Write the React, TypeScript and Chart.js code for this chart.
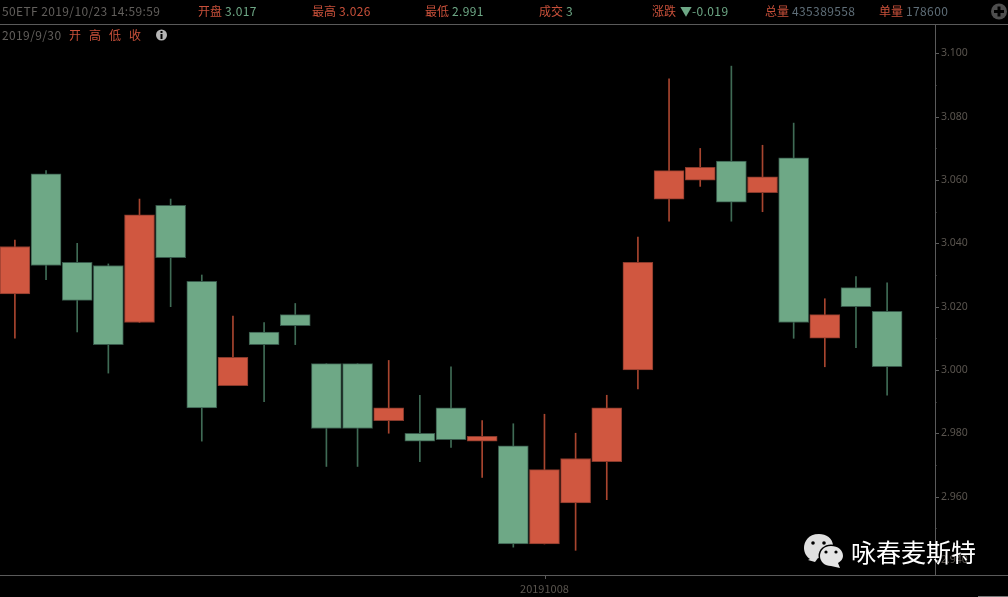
import React, { useEffect, useRef } from "react";
import { Chart, registerables } from "chart.js";

Chart.register(...registerables);

const indexes = [0, 1, 2, 3, 4, 5, 6, 7, 8, 9, 10, 11, 12, 13, 14, 15, 16, 17, 18, 19, 20, 21, 22, 23, 24, 25, 26, 27, 28];
const opens = [3.024, 3.062, 3.034, 3.033, 3.015, 3.052, 3.028, 2.995, 3.012, 3.0175, 3.002, 3.002, 2.984, 2.98, 2.988, 2.9775, 2.976, 2.945, 2.958, 2.971, 3.0, 3.054, 3.06, 3.066, 3.056, 3.067, 3.01, 3.026, 3.0185];
const closes = [3.039, 3.033, 3.022, 3.008, 3.049, 3.0355, 2.988, 3.004, 3.008, 3.014, 2.9815, 2.9815, 2.988, 2.9775, 2.978, 2.979, 2.945, 2.9685, 2.972, 2.988, 3.034, 3.063, 3.064, 3.053, 3.061, 3.015, 3.0175, 3.02, 3.001];
const highs = [3.041, 3.063, 3.04, 3.0335, 3.054, 3.054, 3.03, 3.017, 3.015, 3.021, 3.002, 3.002, 3.003, 2.992, 3.001, 2.984, 2.983, 2.986, 2.98, 2.992, 3.042, 3.092, 3.07, 3.096, 3.071, 3.078, 3.0225, 3.0295, 3.0275];
const lows = [3.01, 3.0285, 3.012, 2.999, 3.015, 3.02, 2.9775, 2.995, 2.99, 3.008, 2.9695, 2.9695, 2.98, 2.971, 2.9755, 2.966, 2.944, 2.945, 2.943, 2.959, 2.994, 3.047, 3.058, 3.047, 3.05, 3.01, 3.001, 3.007, 2.992];
const xTickLabels: Record<number, string> = { 17: "20191008" };

const RED = "#d05740";
const GREEN = "#6ea886";
const RED_EDGE = "#87392b";
const GREEN_EDGE = "#37584a";
const RED_WICK = "#a8452f";
const GREEN_WICK = "#3f6b55";
const AXIS = "#5a5a5a";
const TICK_TEXT = "#5a554f";
const FONT = "'Noto Sans CJK SC','Noto Sans',sans-serif";

const tickMarks = {
  id: "tickMarks",
  afterDraw(chart: any) {
    const { ctx, scales, chartArea } = chart;
    ctx.save();
    ctx.strokeStyle = AXIS;
    ctx.lineWidth = 1;
    ctx.beginPath();
    scales.y.ticks.forEach((t: any) => {
      const y = Math.round(scales.y.getPixelForValue(t.value)) + 0.5;
      const major = Math.round(t.value * 1000) % 20 === 0;
      ctx.moveTo(chartArea.right, y);
      ctx.lineTo(chartArea.right + (major ? 4 : 1.5), y);
    });
    ctx.stroke();
    ctx.restore();
  },
};

function App() {
  const ref = useRef<HTMLCanvasElement | null>(null);
  useEffect(() => {
    document.body.style.margin = "0";
    document.body.style.background = "#000";
    const up = indexes.map((i) => closes[i] >= opens[i]);
    const chart = new Chart(ref.current as HTMLCanvasElement, {
      type: "bar",
      data: {
        datasets: [
          {
            label: "body",
            order: 1,
            grouped: false,
            barThickness: 30,
            data: indexes.map((i) => ({ x: i, y: [opens[i], closes[i]] })),
            backgroundColor: up.map((u) => (u ? RED : GREEN)),
            borderColor: up.map((u) => (u ? RED_EDGE : GREEN_EDGE)),
            borderWidth: 1,
            borderSkipped: false,
          },
          {
            label: "wick",
            order: 2,
            grouped: false,
            barThickness: 1,
            data: indexes.map((i) => ({ x: i, y: [lows[i], highs[i]] })),
            backgroundColor: up.map((u) => (u ? RED_WICK : GREEN_WICK)),
            borderWidth: 0,
          },
        ],
      } as any,
      plugins: [tickMarks],
      options: {
        animation: false,
        responsive: false,
        maintainAspectRatio: false,
        layout: { padding: { top: 25, right: 0, bottom: 0, left: 0 } },
        plugins: { legend: { display: false }, tooltip: { enabled: false }, title: { display: false } },
        scales: {
          x: {
            type: "linear",
            offset: false,
            min: -0.478,
            max: 29.537,
            grid: { display: false, drawTicks: false },
            border: { display: false },
            afterFit: (s: any) => { s.height = 22; },
            afterBuildTicks: (s: any) => { s.ticks = Object.keys(xTickLabels).map((k) => ({ value: Number(k) })); },
            ticks: {
              autoSkip: false,
              maxRotation: 0,
              padding: 7,
              color: TICK_TEXT,
              font: { family: FONT, size: 11 },
              callback: (v: any) => xTickLabels[v] ?? "",
            },
          },
          y: {
            position: "right",
            min: 2.9352,
            max: 3.109,
            grid: { display: false, drawTicks: false },
            border: { display: false },
            afterFit: (s: any) => { s.width = 73; },
            ticks: {
              stepSize: 0.01,
              includeBounds: false,
              autoSkip: false,
              padding: 6,
              color: TICK_TEXT,
              font: { family: "'Noto Sans',sans-serif", size: 10.5 },
              callback: (v: any) => (Math.round(v * 1000) % 20 === 0 ? Number(v).toFixed(3) : ""),
            },
          },
        },
      } as any,
    });
    return () => chart.destroy();
  }, []);

  const T = (left: number, top: number, text: string, color: string, spacing = 0) => (
    <span style={{ position: "absolute", left, top, lineHeight: "16px", fontSize: 12, letterSpacing: spacing, color, whiteSpace: "pre" }}>{text}</span>
  );
  const labelRed = "#c8503a";
  const valueGreen = "#6ea886";
  const slate = "#5f6e78";
  const num = 0.38;

  return (
    <div style={{ position: "absolute", left: 0, top: 0, width: 1008, height: 597, background: "#000", overflow: "hidden", fontFamily: FONT }}>
      <canvas ref={ref} width={1008} height={597} style={{ position: "absolute", left: 0, top: 0, display: "block" }} />
      <div style={{ position: "absolute", left: 0, top: 24, width: 1008, height: 1, background: AXIS }} />
      <div style={{ position: "absolute", left: 0, top: 575, width: 1008, height: 1, background: AXIS }} />
      <div style={{ position: "absolute", left: 935, top: 24, width: 1, height: 551, background: AXIS }} />
      <div style={{ position: "absolute", left: 545, top: 576, width: 1, height: 3, background: AXIS }} />
      <div style={{ position: "absolute", left: 978, top: 596, width: 30, height: 1, background: "#777" }} />

      {T(2, 3, "50ETF 2019/10/23 14:59:59", "#625f5c", num)}
      {T(198, 3, "开盘", labelRed)}{T(225, 3, "3.017", valueGreen, num)}
      {T(312, 3, "最高", labelRed)}{T(339, 3, "3.026", labelRed, num)}
      {T(425, 3, "最低", labelRed)}{T(452, 3, "2.991", valueGreen, num)}
      {T(539, 3, "成交", labelRed)}{T(566, 3, "3", valueGreen)}
      {T(652, 3, "涨跌", labelRed)}{T(680, 3, "▼", valueGreen)}{T(692, 3, "-0.019", valueGreen, num)}
      {T(765, 3, "总量", labelRed)}{T(792, 3, "435389558", slate, num)}
      {T(879, 3, "单量", labelRed)}{T(906, 3, "178600", slate, num)}

      {T(2, 27, "2019/9/30", "#625f5c", num)}
      {T(69, 27, "开", labelRed)}{T(89, 27, "高", labelRed)}{T(109, 27, "低", labelRed)}{T(129, 27, "收", labelRed)}

      <svg width={1008} height={597} style={{ position: "absolute", left: 0, top: 0, pointerEvents: "none" }}>
        <circle cx={161.5} cy={35} r={5.5} fill="#b5b5b5" />
        <rect x={160.5} y={34} width={2} height={5} fill="#000" />
        <rect x={160.5} y={31} width={2} height={2} fill="#000" />

        <circle cx={999} cy={11.5} r={8} fill="#4e4e4e" />
        <rect x={994} y={10} width={10} height={3} fill="#000" />
        <rect x={997.5} y={6.5} width={3} height={10} fill="#000" />

        <path d="M819 534 C808 534 804 542 804 548 C804 553 807 557 810 559 L808 560 L815 562 L818 558 C828 560 833 552 833 546 C833 538 826 534 819 534 Z" fill="#e0e0e0" />
        <circle cx={813} cy={543} r={1.8} fill="#000" />
        <circle cx={824} cy={543} r={1.8} fill="#000" />
        <ellipse cx={831} cy={556} rx={12.5} ry={11.5} fill="#000" />
        <path d="M831 546 C823 546 820 552 820 556 C820 562 825 566 831 566 L840 568 L838 563 C841 561 843 559 843 556 C843 550 838 546 831 546 Z" fill="#e4e4e4" />
        <circle cx={826} cy={552} r={1.6} fill="#000" />
        <circle cx={836} cy={552} r={1.6} fill="#000" />
      </svg>
      <span style={{ position: "absolute", left: 851, top: 535, fontSize: 25, lineHeight: "32px", color: "#fff", whiteSpace: "pre" }}>咏春麦斯特</span>
    </div>
  );
}

export default App;
